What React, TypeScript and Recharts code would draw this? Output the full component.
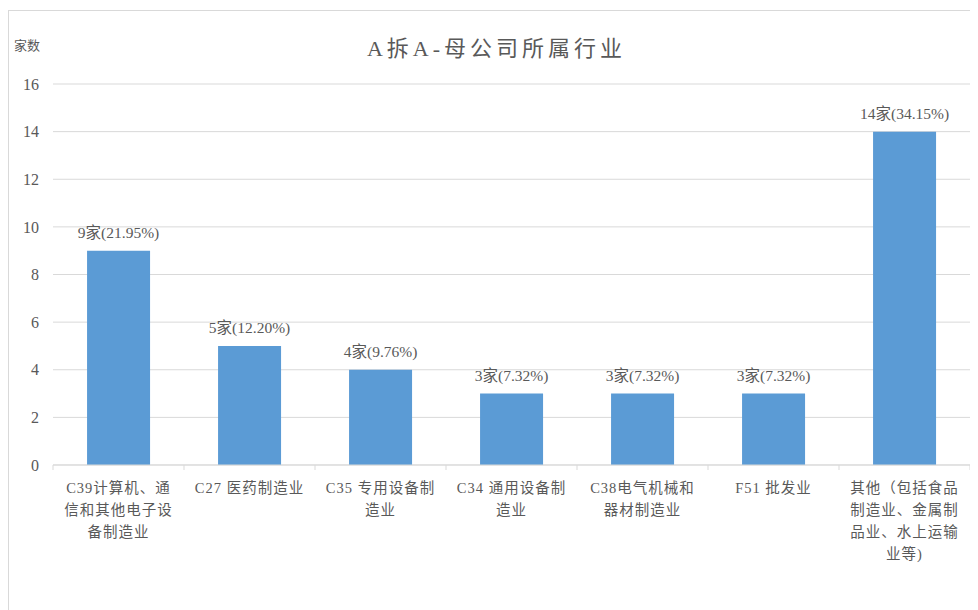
import React from 'react'
import { BarChart, Bar, XAxis, YAxis, CartesianGrid, LabelList } from 'recharts'

// 行业分类 (each label already split into the lines it wraps to)
const categories = [
  'C39计算机、通信和其他电子设备制造业',
  'C27医药制造业',
  'C35专用设备制造业',
  'C34通用设备制造业',
  'C38电气机械和器材制造业',
  'F51批发业',
  '其他（包括食品制造业、金属制品业、水上运输业等）',
]
const categoryLines = [
  ['C39计算机、通', '信和其他电子设', '备制造业'],
  ['C27 医药制造业'],
  ['C35 专用设备制', '造业'],
  ['C34 通用设备制', '造业'],
  ['C38电气机械和', '器材制造业'],
  ['F51 批发业'],
  ['其他（包括食品', '制造业、金属制', '品业、水上运输', '业等)'],
]
const counts = [9, 5, 4, 3, 3, 3, 14]
const shares = ['21.95%', '12.20%', '9.76%', '7.32%', '7.32%', '7.32%', '34.15%']
const yTicks = [0, 2, 4, 6, 8, 10, 12, 14, 16]

const FONT = '"Liberation Serif", "Noto Sans CJK SC", serif'
const TEXT = '#595959'
const GRID = '#d9d9d9'

const data = categories.map((name, i) => ({
  name,
  count: counts[i],
  label: `${counts[i]}家(${shares[i]})`,
}))

function CategoryTick(props: any) {
  const { x, y, payload, index } = props
  const half = payload?.offset ?? 65.5
  const lines: string[] = categoryLines[index] ?? [String(payload.value)]
  const last = index === categories.length - 1
  return (
    <g>
      <line x1={x - half} x2={x - half} y1={y - 8} y2={y - 3} stroke={GRID} />
      {last && <line x1={x + half} x2={x + half} y1={y - 8} y2={y - 3} stroke={GRID} />}
      <text x={x} y={y} textAnchor="middle" fill={TEXT} fontSize={14.5} fontFamily={FONT}>
        {lines.map((ln, i) => (
          <tspan key={i} x={x} dy={i === 0 ? 20 : 22} letterSpacing={1}>
            {ln}
          </tspan>
        ))}
      </text>
    </g>
  )
}

export default function App() {
  return (
    <div
      style={{
        position: 'relative',
        marginTop: 2,
        width: 975,
        height: 610,
        borderLeft: `1px solid ${GRID}`,
        borderTop: `1px solid ${GRID}`,
        background: '#fff',
        fontFamily: FONT,
      }}
    >
      <div style={{ position: 'absolute', left: 5, top: 24, fontSize: 13, color: TEXT }}>
        家数
      </div>
      <div
        style={{
          position: 'absolute',
          left: 0,
          width: 975,
          top: 19,
          textAlign: 'center',
          fontSize: 22,
          letterSpacing: 4,
          color: TEXT,
        }}
      >
        A拆A-母公司所属行业
      </div>
      <BarChart
        width={969}
        height={598}
        data={data}
        margin={{ top: 73, right: 8, left: 0, bottom: 44 }}
        barCategoryGap="26%"
      >
        <CartesianGrid vertical={false} stroke={GRID} />
        <XAxis
          dataKey="name"
          interval={0}
          height={100}
          axisLine={{ stroke: GRID }}
          tickLine={false}
          tick={<CategoryTick />}
        />
        <YAxis
          width={44}
          domain={[0, 16]}
          ticks={yTicks}
          axisLine={false}
          tickLine={false}
          tickMargin={8}
          tick={{ fill: TEXT, fontSize: 16, fontFamily: FONT }}
        />
        <Bar dataKey="count" fill="#5b9bd5" isAnimationActive={false}>
          <LabelList
            dataKey="label"
            position="top"
            offset={13}
            fill={TEXT}
            fontSize={15.5}
            fontFamily={FONT}
          />
        </Bar>
      </BarChart>
    </div>
  )
}
